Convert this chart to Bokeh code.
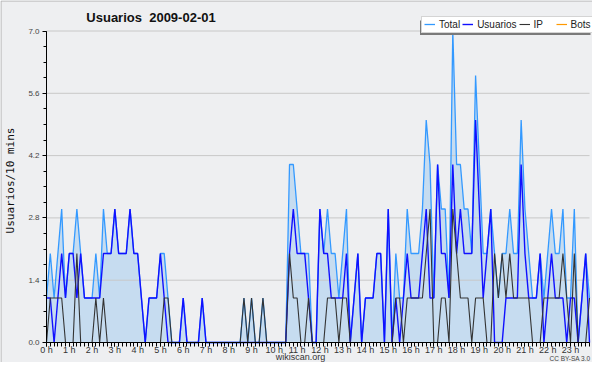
import math
from bokeh.plotting import figure
from bokeh.models import (Range1d, FixedTicker, Label, Legend, LegendItem,
                          BoxAnnotation, PrintfTickFormatter)
from bokeh.embed import file_html
from bokeh.resources import INLINE

# ---------------- data (10-minute slots, 2009-02-01) ----------------
total = [
    1, 2, 1, 2, 3, 1,   # 0 h
    2, 2, 3, 2, 1, 1,   # 1 h
    1, 2, 1, 3, 2, 2,   # 2 h
    3, 2, 2, 2, 3, 2,   # 3 h
    2, 1, 0, 1, 1, 1,   # 4 h
    2, 2, 1, 0, 0, 0,   # 5 h
    1, 0, 0, 0, 0, 1,   # 6 h
    0, 0, 0, 0, 0, 0,   # 7 h
    0, 0, 0, 0, 1, 0,   # 8 h
    1, 0, 0, 1, 0, 0,   # 9 h
    0, 0, 0, 0, 4, 4,   # 10 h
    3, 2, 2, 2, 0, 0,   # 11 h
    3, 2, 3, 2, 2, 1,   # 12 h
    2, 3, 0, 1, 2, 0,   # 13 h
    1, 1, 1, 2, 2, 0,   # 14 h
    3, 0, 2, 1, 1, 3,   # 15 h
    2, 2, 2, 3, 5, 4,   # 16 h
    1, 4, 3, 3, 1, 7,   # 17 h
    4, 4, 3, 3, 2, 6,   # 18 h
    4, 2, 2, 3, 2, 1,   # 19 h
    2, 2, 3, 2, 2, 5,   # 20 h
    3, 2, 1, 1, 2, 1,   # 21 h
    2, 3, 2, 2, 3, 1,   # 22 h
    1, 3, 0, 1, 2, 1,   # 23 h
]
usuarios = [
    1, 1, 0, 1, 2, 1,
    2, 2, 1, 2, 1, 1,
    1, 1, 1, 2, 2, 2,
    3, 2, 2, 2, 3, 2,
    2, 1, 0, 1, 1, 1,
    2, 1, 0, 0, 0, 0,
    1, 0, 0, 0, 0, 1,
    0, 0, 0, 0, 0, 0,
    0, 0, 0, 0, 0, 0,
    0, 0, 0, 0, 0, 0,
    0, 0, 0, 0, 2, 3,
    2, 2, 2, 1, 0, 0,
    3, 2, 2, 1, 1, 1,
    1, 2, 0, 1, 2, 0,
    1, 1, 1, 2, 2, 0,
    3, 0, 1, 0, 1, 2,
    1, 1, 1, 2, 3, 1,
    1, 4, 2, 2, 1, 4,
    2, 3, 2, 2, 2, 5,
    3, 1, 2, 3, 0, 0,
    0, 1, 1, 1, 1, 4,
    2, 1, 1, 1, 2, 0,
    1, 2, 1, 1, 1, 0,
    1, 1, 0, 1, 2, 0,
]
ip = [
    0, 1, 1, 1, 1, 0,
    0, 0, 2, 0, 0, 0,
    0, 1, 0, 1, 0, 0,
    0, 0, 0, 0, 0, 0,
    0, 0, 0, 0, 0, 0,
    0, 1, 1, 0, 0, 0,
    0, 0, 0, 0, 0, 0,
    0, 0, 0, 0, 0, 0,
    0, 0, 0, 0, 1, 0,
    1, 0, 0, 1, 0, 0,
    0, 0, 0, 0, 2, 1,
    1, 0, 0, 1, 0, 0,
    0, 0, 1, 1, 1, 0,
    1, 1, 0, 0, 0, 0,
    0, 0, 0, 0, 0, 0,
    0, 0, 1, 1, 0, 1,
    1, 1, 1, 1, 2, 3,
    0, 0, 1, 1, 0, 3,
    2, 1, 1, 1, 0, 1,
    1, 1, 0, 0, 2, 1,
    2, 1, 2, 1, 1, 1,
    1, 1, 0, 0, 0, 1,
    1, 1, 1, 1, 2, 1,
    0, 2, 0, 0, 0, 1,
]
bots = [0] * 144
slots_per_hour = 6
hours = list(range(24))
hour_labels = {h: f"{h} h" for h in hours}
y_ticks = [0.0, 1.4, 2.8, 4.2, 5.6, 7.0]
y_minor = [k * 0.35 for k in range(21)]
y_top = 7.0

x = [i / slots_per_hour for i in range(len(total))]
x_max = x[-1]

# ---------------- geometry (canvas pixels) ----------------
BG = "#eeeff1"
W, H = 592, 362
FL, FR, FT, FB = 46, 589, 30.5, 342    # plotting area edges
kx = (FR - FL) / x_max
ky = (FB - FT) / y_top


def sx2d(sx):
    return (sx - FL) / kx


def sy2d(sy):
    return (FB - sy) / ky


p = figure(width=W, height=H, output_backend="svg", toolbar_location=None,
           x_range=Range1d(-FL / kx, x_max + (W - FR) / kx),
           y_range=Range1d(-(H - FB) / ky, y_top + FT / ky),
           min_border=0, min_border_left=0, min_border_right=0,
           min_border_top=0, min_border_bottom=0,
           background_fill_color=BG, border_fill_color=BG,
           outline_line_color=None)

p.xgrid.visible = False
p.ygrid.visible = False

# thin outer frame lines (left / top), like the original image border
p.segment(x0=[sx2d(0.5), sx2d(0.5)], y0=[sy2d(0.5), sy2d(0.5)],
          x1=[sx2d(0.5), sx2d(W)], y1=[sy2d(H), sy2d(0.5)],
          line_color="#b0b0b0", line_width=1)

# area + grid lines + series
p.varea(x=x, y1=[0] * len(x), y2=total, fill_color="#c6dcf0")
p.segment(x0=[0] * len(y_ticks), x1=[x_max] * len(y_ticks), y0=y_ticks,
          y1=y_ticks, line_color="#c8c8c8", line_width=1)
r_total = p.line(x, total, line_color="#3399ff", line_width=1.3)
r_bots = p.line(x, bots, line_color="#ff9900", line_width=1.2)
r_users = p.line(x, usuarios, line_color="#1010ff", line_width=1.4)
r_ip = p.line(x, ip, line_color="#333333", line_width=1.1)

# axes, drawn at fixed data locations
xa = p.xaxis[0]
xa.fixed_location = 0
xa.bounds = (0, x_max)
xa.ticker = FixedTicker(ticks=hours, minor_ticks=x)
xa.major_label_overrides = hour_labels
xa.axis_line_color = "black"
xa.major_tick_line_color = "black"
xa.minor_tick_line_color = "black"
xa.major_tick_in = 0
xa.major_tick_out = 4
xa.minor_tick_in = 0
xa.minor_tick_out = 4
xa.major_label_standoff = -2
xa.major_label_text_font = "Liberation Sans"
xa.major_label_text_font_size = "9px"
xa.major_label_text_color = "#333333"

ya = p.yaxis[0]
ya.fixed_location = 0
ya.bounds = (0, y_top)
ya.ticker = FixedTicker(ticks=y_ticks, minor_ticks=y_minor)
ya.formatter = PrintfTickFormatter(format="%.1f")
ya.axis_line_color = "black"
ya.major_tick_line_color = "black"
ya.minor_tick_line_color = "black"
ya.major_tick_in = 0
ya.major_tick_out = 4
ya.minor_tick_in = 0
ya.minor_tick_out = 3
ya.major_label_standoff = 3
ya.major_label_text_font = "Liberation Sans"
ya.major_label_text_font_size = "8px"
ya.major_label_text_color = "#444444"

# legend shadow + legend
shadow = BoxAnnotation(left=sx2d(419.5), right=sx2d(590), top=sy2d(20),
                       bottom=sy2d(34.5), fill_color="#7a7a7a", fill_alpha=1.0,
                       line_color=None)
p.add_layout(shadow)

legend = Legend(items=[LegendItem(label="Total", renderers=[r_total]),
                       LegendItem(label="Usuarios", renderers=[r_users]),
                       LegendItem(label="IP", renderers=[r_ip]),
                       LegendItem(label="Bots", renderers=[r_bots])],
                location=(421, H - 32.5), orientation="horizontal",
                background_fill_color="white", background_fill_alpha=1.0,
                border_line_color="#aaaaaa", border_line_width=1,
                label_text_font="Liberation Sans", label_text_font_size="10px",
                label_text_color="#222222",
                label_height=10, glyph_height=10, glyph_width=11,
                label_standoff=4, spacing=2, padding=2, margin=0)
p.add_layout(legend)

# texts
p.add_layout(Label(x=sx2d(150.5), y=sy2d(17), text="Usuarios\u00a0 2009-02-01",
                   text_align="center", text_baseline="middle",
                   text_font="Liberation Sans", text_font_style="bold",
                   text_font_size="13px", text_color="#111111"))
p.add_layout(Label(x=sx2d(10), y=sy2d(180), text="Usuarios/10 mins",
                   angle=math.pi / 2, text_align="center", text_baseline="middle",
                   text_font="DejaVu Sans Mono", text_font_size="11px",
                   text_color="#111111"))
p.add_layout(Label(x=sx2d(300), y=sy2d(356.5), text="wikiscan.org",
                   text_align="center", text_baseline="middle",
                   text_font="Liberation Sans", text_font_size="9px",
                   text_color="#333333"))
p.add_layout(Label(x=sx2d(569.5), y=sy2d(357.5), text="CC BY-SA 3.0",
                   text_align="center", text_baseline="middle",
                   text_font="Liberation Sans", text_font_size="6.5px",
                   text_color="#444444"))

open("out.html", "w").write(file_html(p, INLINE))
